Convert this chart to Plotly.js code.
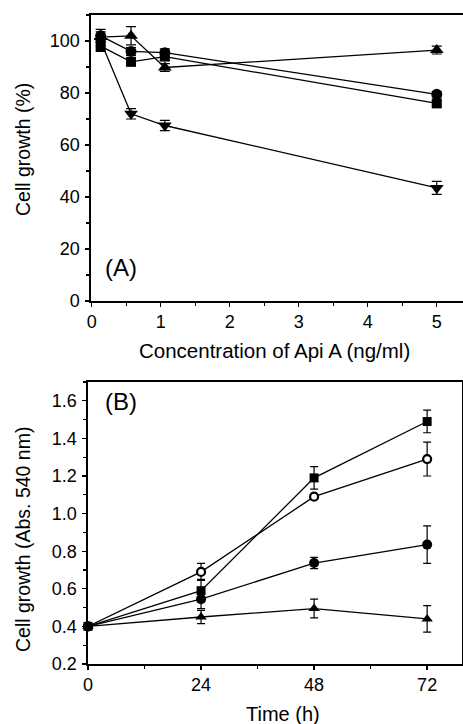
<!DOCTYPE html>
<html>
<head>
<meta charset="utf-8">
<script src="https://cdn.plot.ly/plotly-3.0.1.min.js"></script>
<style>html,body{margin:0;padding:0;background:#fff}#chart{width:463px;height:724px}</style>
</head>
<body>
<div id="chart"></div>
<script>
// Panel A: concentration of Api A (ng/ml) vs cell growth (%)
var concA = [0.13, 0.57, 1.06, 5];
var aCircle = [102, 96, 95.5, 79.5];
var aCircleErr = [2.5, 1.5, 1.5, 1];
var aSquare = [98, 92, 94, 76];
var aSquareErr = [2, 1.5, 1.5, 1];
var aTriUp = [101.5, 102, 89.8, 96.5];
var aTriUpErr = [2, 3.5, 1.5, 1.5];
var aTriDown = [100, 72, 67.5, 43.5];
var aTriDownErr = [2, 2, 2, 2.5];

// Panel B: time (h) vs absorbance at 540 nm
var timeB = [0, 24, 48, 72];
var bSquare = [0.4, 0.59, 1.19, 1.49];
var bSquareErr = [0.01, 0.06, 0.06, 0.06];
var bOpenCircle = [0.4, 0.69, 1.09, 1.29];
var bOpenCircleErr = [0.01, 0.045, 0.01, 0.09];
var bCircle = [0.4, 0.545, 0.737, 0.835];
var bCircleErr = [0.01, 0.05, 0.03, 0.1];
var bTriangle = [0.4, 0.45, 0.495, 0.44];
var bTriangleErr = [0.01, 0.035, 0.05, 0.07];

var xTicksA = [0, 1, 2, 3, 4, 5];
var yTicksA = [0, 20, 40, 60, 80, 100];
var xTicksB = [0, 24, 48, 72];
var yTicksB = [0.2, 0.4, 0.6, 0.8, 1.0, 1.2, 1.4, 1.6];

var FONT = 'Liberation Sans, Arial, Helvetica, sans-serif';

function series(x, y, err, symbol, size, xa, ya, cap, open) {
  return {
    x: x, y: y, xaxis: xa, yaxis: ya, type: 'scatter', mode: 'lines+markers',
    line: {color: '#000', width: 1.3},
    marker: {symbol: symbol, size: size, color: open ? '#fff' : '#000',
             line: {color: '#000', width: open ? 2.2 : 0}},
    error_y: {type: 'data', array: err, visible: true, color: '#000', thickness: 1.2, width: cap},
    showlegend: false, cliponaxis: false
  };
}

var data = [
  series(concA, aCircle, aCircleErr, 'circle', 11, 'x', 'y', 5),
  series(concA, aSquare, aSquareErr, 'square', 10, 'x', 'y', 5),
  series(concA, aTriUp, aTriUpErr, 'triangle-up', 12, 'x', 'y', 5),
  series(concA, aTriDown, aTriDownErr, 'triangle-down', 12, 'x', 'y', 5),
  series(timeB, bSquare, bSquareErr, 'square', 9, 'x2', 'y2', 4),
  series(timeB, bOpenCircle, bOpenCircleErr, 'circle', 8, 'x2', 'y2', 4, true),
  series(timeB, bCircle, bCircleErr, 'circle', 10, 'x2', 'y2', 4),
  series(timeB, bTriangle, bTriangleErr, 'triangle-up', 10, 'x2', 'y2', 4)
];

var W = 463, H = 724;
function px(v) { return v / W; }
function py(v) { return (H - v) / H; }

var axBase = {
  showgrid: false, zeroline: false, showline: true, linecolor: '#000', linewidth: 1.6,
  ticks: 'outside', ticklen: 4, tickwidth: 1.4, tickcolor: '#000',
  tickfont: {family: FONT, size: 18, color: '#000'}, automargin: false, fixedrange: true
};
function ax(extra) { return Object.assign({}, axBase, extra); }

function label(text, x, y, size, angle) {
  return {text: text, x: px(x), y: py(y), xref: 'paper', yref: 'paper', xanchor: 'center',
          yanchor: 'middle', textangle: angle || 0, showarrow: false,
          font: {family: FONT, size: size, color: '#000'}};
}

var layout = {
  width: W, height: H,
  margin: {l: 0, r: 0, t: 0, b: 0},
  paper_bgcolor: '#fff', plot_bgcolor: '#fff',
  font: {family: FONT, color: '#000'},
  xaxis: ax({domain: [px(91), 1], range: [-0.01, 5.38], tickmode: 'array', tickvals: xTicksA,
             mirror: true, anchor: 'y',
             minor: {dtick: 0.5, ticks: 'outside', ticklen: 3, tickcolor: '#000'}}),
  yaxis: ax({domain: [py(301), py(15)], range: [0, 110], tickmode: 'array', tickvals: yTicksA,
             anchor: 'x', ticklabelstandoff: 2,
             minor: {dtick: 10, ticks: 'outside', ticklen: 3, tickcolor: '#000'}}),
  xaxis2: ax({domain: [px(88), px(462)], range: [0, 79.4], tickmode: 'array', tickvals: xTicksB,
              mirror: true, anchor: 'y2',
              minor: {dtick: 12, ticks: 'outside', ticklen: 3, tickcolor: '#000'}}),
  yaxis2: ax({domain: [py(664), py(382)], range: [0.2, 1.7], tickmode: 'array', tickvals: yTicksB,
              tickformat: '.1f', mirror: true, anchor: 'x2', ticklabelstandoff: 2,
              minor: {dtick: 0.1, ticks: 'outside', ticklen: 3, tickcolor: '#000'}}),
  annotations: [
    {text: '(A)', x: 0.42, y: 13, xref: 'x', yref: 'y', xanchor: 'center', yanchor: 'middle',
     showarrow: false, font: {family: FONT, size: 24, color: '#000'}},
    {text: '(B)', x: 7, y: 1.594, xref: 'x2', yref: 'y2', xanchor: 'center', yanchor: 'middle',
     showarrow: false, font: {family: FONT, size: 24, color: '#000'}},
    label('Concentration of Api A (ng/ml)', 274, 350, 20.5),
    label('Time (h)', 283, 714, 20),
    label('Cell growth (%)', 23, 150, 19.5, -90),
    label('Cell growth (Abs. 540 nm)', 23, 540, 19.5, -90)
  ]
};

Plotly.newPlot('chart', data, layout, {staticPlot: true, displayModeBar: false});
</script>
</body>
</html>
